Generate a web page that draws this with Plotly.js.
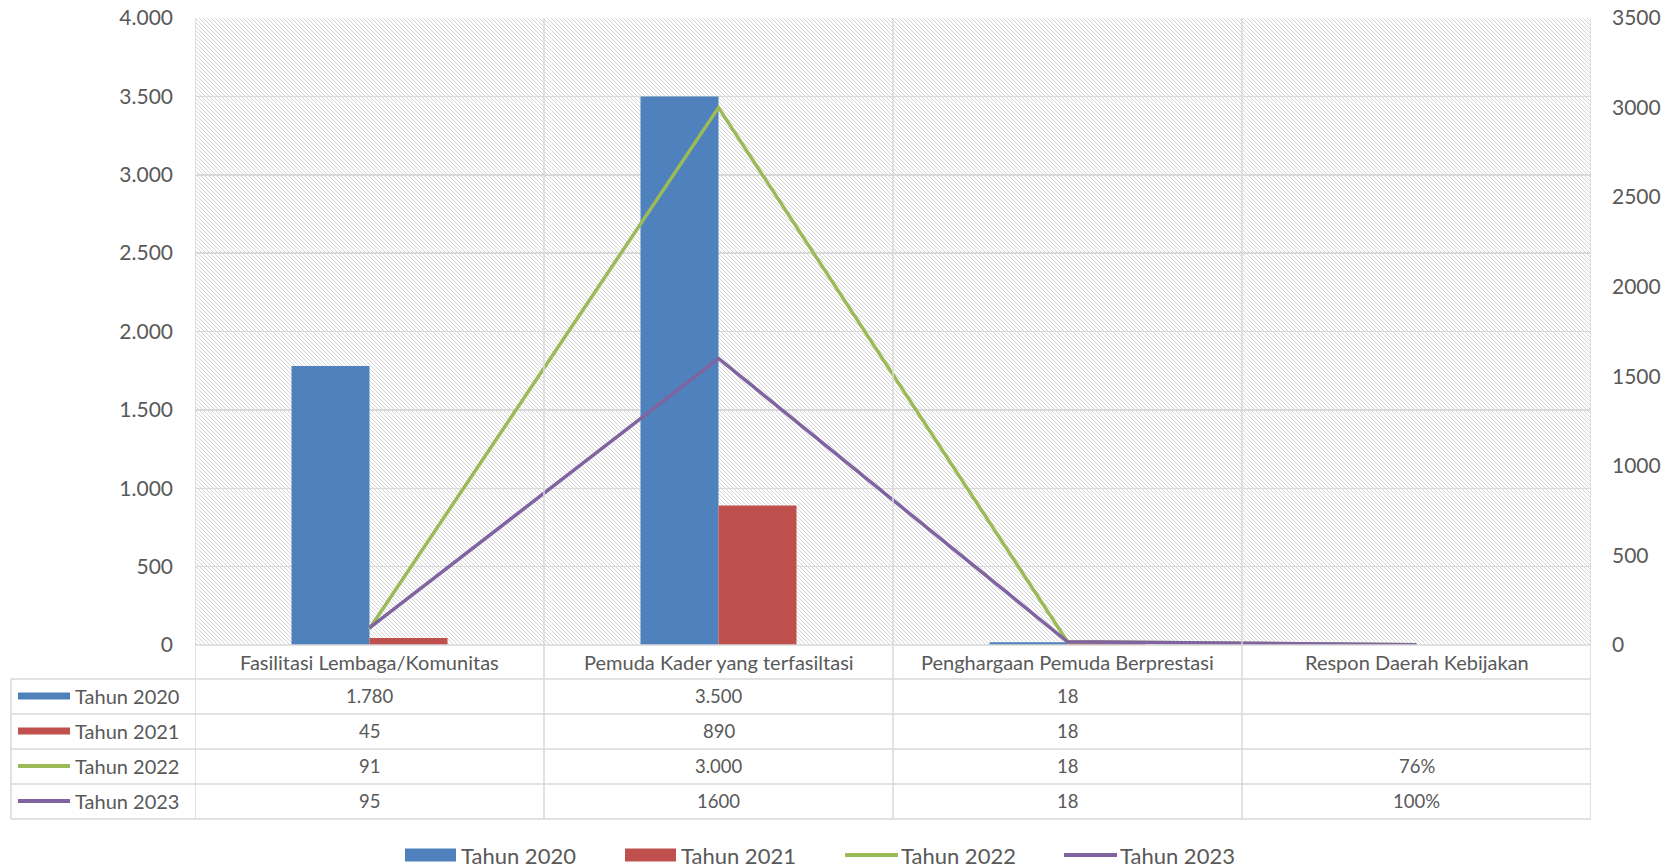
<!DOCTYPE html>
<html><head><meta charset="utf-8">
<script src="https://cdn.plot.ly/plotly-3.0.1.min.js"></script>
<style>
body{margin:0;background:#fff;}
#wrap{position:relative;width:1672px;height:867px;overflow:hidden;}
#hatch{position:absolute;left:195px;top:18px;width:1396px;height:627px;
background-image:url("data:image/svg+xml,%3Csvg xmlns='http://www.w3.org/2000/svg' width='4' height='4'%3E%3Cpath d='M0,0 L4,4 M-1,3 L1,5 M3,-1 L5,1' stroke='%23d3d3d3' stroke-width='1'/%3E%3C/svg%3E");}
#chart{position:absolute;left:0;top:0;width:1672px;height:867px;}
</style></head>
<body><div id="wrap"><div id="hatch"></div><div id="chart"></div></div>
<script>
// ---- data ----
const categories = ['Fasilitasi Lembaga/Komunitas','Pemuda Kader yang terfasiltasi','Penghargaan Pemuda Berprestasi','Respon Daerah Kebijakan'];
const seriesNames = ['Tahun 2020','Tahun 2021','Tahun 2022','Tahun 2023'];
const tahun2020 = [1780, 3500, 18, null];
const tahun2021 = [45, 890, 18, null];
const tahun2022 = [91, 3000, 18, 0.76];
const tahun2023 = [95, 1600, 18, 1.00];
const percentCategory = [false, false, false, true];
const rowThousandsSep = [true, true, true, false];
const leftTicks = [0,500,1000,1500,2000,2500,3000,3500,4000];
const rightTicks = [0,500,1000,1500,2000,2500,3000,3500];

// ---- style ----
const colors = ['#4F81BD','#C0504D','#9BBB59','#8064A2'];
const isBar = [true,true,false,false];
const txt = '#595959', grid = '#D9D9D9', FONT = 'Lato, "Open Sans", sans-serif';
const L = 195, R = 1591, T = 18, B = 645, W = 1672, H = 867;
const px = x => (x - L) / (R - L);
const py = y => (B - y) / (B - T);

function fmt(v, row, cat) {
  if (v === null || v === undefined) return '';
  if (percentCategory[cat]) return Math.round(v * 100) + '%';
  let s = String(v);
  if (rowThousandsSep[row]) s = s.replace(/\B(?=(\d{3})+(?!\d))/g, '.');
  return s;
}

const allSeries = [tahun2020, tahun2021, tahun2022, tahun2023];
const traces = [];
allSeries.forEach((s, i) => {
  if (isBar[i]) traces.push({type:'bar', name:seriesNames[i], x:categories, y:s, marker:{color:colors[i]}, yaxis:'y', hoverinfo:'skip'});
  else traces.push({type:'scatter', mode:'lines', name:seriesNames[i], x:categories, y:s, line:{color:colors[i], width:3.5}, yaxis:'y2', hoverinfo:'skip'});
});

const shapes = [], annotations = [];
const tableTop = 679, rowH = 35, tableBottom = tableTop + 4 * rowH;
for (let k = 0; k <= categories.length; k++) {
  shapes.push({type:'line', xref:'x', yref:'paper', x0:k-0.5, x1:k-0.5, y0:py(tableBottom), y1:1, line:{color:grid, width:1.5}, layer:'above'});
}
shapes.push({type:'line', xref:'x', yref:'paper', x0:-0.5, x1:3.5, y0:0, y1:0, line:{color:grid, width:1.5}});
shapes.push({type:'line', xref:'paper', yref:'paper', x0:px(11), x1:px(11), y0:py(tableTop), y1:py(tableBottom), line:{color:grid, width:1.5}});
for (let r = 0; r <= 4; r++) {
  const y = tableTop + r * rowH;
  shapes.push({type:'line', xref:'paper', yref:'paper', x0:px(11), x1:1, y0:py(y), y1:py(y), line:{color:grid, width:1.5}});
}
categories.forEach((c, k) => annotations.push({xref:'x', yref:'paper', x:k, y:py(662), text:c, showarrow:false, xanchor:'center', yanchor:'middle', font:{family:FONT, size:20, color:txt}}));
allSeries.forEach((s, i) => {
  const yc = tableTop + i * rowH + rowH / 2 - 0.5;
  if (isBar[i]) shapes.push({type:'rect', xref:'paper', yref:'paper', x0:px(18), x1:px(70), y0:py(yc-3.5), y1:py(yc+3.5), fillcolor:colors[i], line:{width:0}});
  else shapes.push({type:'line', xref:'paper', yref:'paper', x0:px(18), x1:px(70), y0:py(yc), y1:py(yc), line:{color:colors[i], width:4}});
  annotations.push({xref:'paper', yref:'paper', x:px(73), y:py(yc), text:seriesNames[i], showarrow:false, xanchor:'left', yanchor:'middle', font:{family:FONT, size:20, color:txt}});
  s.forEach((v, k) => annotations.push({xref:'x', yref:'paper', x:k, y:py(yc), text:fmt(v, i, k), showarrow:false, xanchor:'center', yanchor:'middle', font:{family:FONT, size:18.5, color:txt}}));
});
const legX = [405, 625, 845, 1064], legY = 855;
seriesNames.forEach((n, i) => {
  const x0 = legX[i];
  if (isBar[i]) shapes.push({type:'rect', xref:'paper', yref:'paper', x0:px(x0), x1:px(x0+51), y0:py(legY-6.5), y1:py(legY+6.5), fillcolor:colors[i], line:{width:0}});
  else shapes.push({type:'line', xref:'paper', yref:'paper', x0:px(x0), x1:px(x0+53), y0:py(legY), y1:py(legY), line:{color:colors[i], width:4}});
  annotations.push({xref:'paper', yref:'paper', x:px(x0+54), y:py(legY), text:n, showarrow:false, xanchor:'left', yanchor:'middle', height:22, valign:'middle', font:{family:FONT, size:22, color:txt}});
});

const layout = {
  width:W, height:H, margin:{l:L, r:W-R, t:T, b:H-B, pad:0},
  paper_bgcolor:'rgba(0,0,0,0)', plot_bgcolor:'rgba(0,0,0,0)',
  separators:',.', showlegend:false, barmode:'group', bargap:0.553, bargroupgap:0,
  font:{family:FONT, color:txt},
  xaxis:{type:'category', range:[-0.5,3.5], showticklabels:false, showgrid:false, zeroline:false, showline:false, ticks:'', fixedrange:true},
  yaxis:{range:[0,4000], tickvals:leftTicks, tickformat:',', showgrid:true, gridcolor:grid, gridwidth:1.5, zeroline:false, showline:false, ticks:'', ticklabelstandoff:21, tickfont:{family:FONT, size:21, color:txt}, fixedrange:true},
  yaxis2:{overlaying:'y', side:'right', range:[0,3500], tickvals:rightTicks, tickformat:'d', showgrid:false, zeroline:false, showline:false, ticks:'', ticklabelstandoff:20, tickfont:{family:FONT, size:21, color:txt}, fixedrange:true},
  shapes:shapes, annotations:annotations
};
Plotly.newPlot('chart', traces, layout, {displayModeBar:false, staticPlot:true});
</script></body></html>
